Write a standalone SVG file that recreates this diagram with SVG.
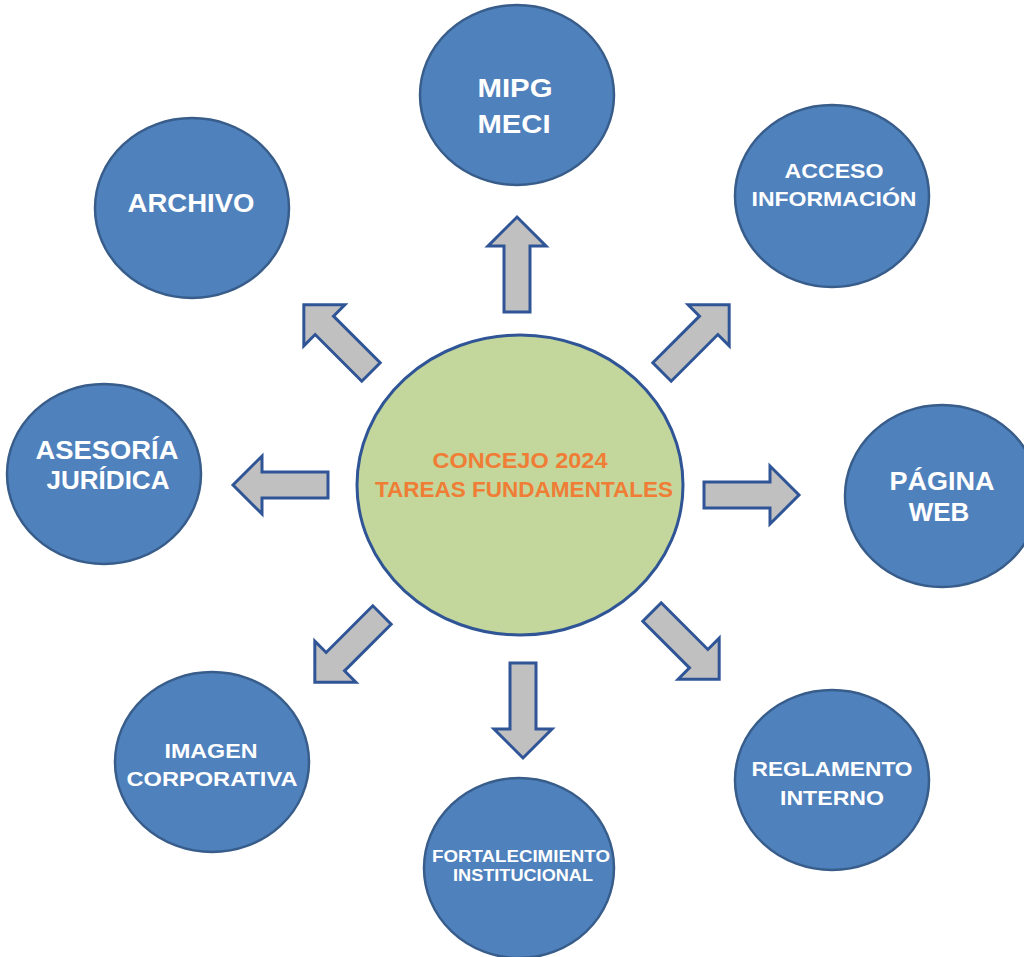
<svg xmlns="http://www.w3.org/2000/svg" width="1024" height="957" viewBox="0 0 1024 957">
<style>
.node{fill:#4f81bd;stroke:#385d8a;stroke-width:2.5}
.center{fill:#c3d69b;stroke:#2f5597;stroke-width:3}
.arrow{fill:#c0c0c0;stroke:#2f5597;stroke-width:3;stroke-linejoin:miter}
.lbl{font-family:"Liberation Sans",Arial,sans-serif;font-weight:bold;fill:#ffffff;text-anchor:middle}
.ctr{font-family:"Liberation Sans",Arial,sans-serif;font-weight:bold;fill:#f07d35;text-anchor:middle}
</style>
<defs>
<path id="arr" d="M0,-13 H66 V-29 L95,0 L66,29 V13 H0 Z"/>
</defs>
<rect width="1024" height="957" fill="#ffffff"/>
<g id="connectors">
<use href="#arr" class="arrow" transform="translate(517,312) rotate(-90)"/>
<use href="#arr" class="arrow" transform="translate(328,485) rotate(180)"/>
<use href="#arr" class="arrow" transform="translate(704,495)"/>
<use href="#arr" class="arrow" transform="translate(523,663) rotate(90)"/>
<use href="#arr" class="arrow" transform="translate(371,372) rotate(-135)"/>
<use href="#arr" class="arrow" transform="translate(662,372) rotate(-45)"/>
<use href="#arr" class="arrow" transform="translate(382,615) rotate(135)"/>
<use href="#arr" class="arrow" transform="translate(652,612) rotate(45)"/>
</g>
<g id="center">
<ellipse class="center" cx="520" cy="485" rx="163" ry="150"/>
<text class="ctr" x="520" y="468" font-size="22" textLength="175" lengthAdjust="spacingAndGlyphs">CONCEJO 2024</text>
<text class="ctr" x="524" y="497" font-size="22" textLength="298" lengthAdjust="spacingAndGlyphs">TAREAS FUNDAMENTALES</text>
</g>
<g id="mipg">
<ellipse class="node" cx="517" cy="95" rx="97" ry="90"/>
<text class="lbl" x="515" y="97" font-size="26" textLength="75" lengthAdjust="spacingAndGlyphs">MIPG</text>
<text class="lbl" x="514" y="133" font-size="26" textLength="73" lengthAdjust="spacingAndGlyphs">MECI</text>
</g>
<g id="archivo">
<ellipse class="node" cx="192" cy="208" rx="97" ry="90"/>
<text class="lbl" x="191" y="212" font-size="25" textLength="127" lengthAdjust="spacingAndGlyphs">ARCHIVO</text>
</g>
<g id="acceso">
<ellipse class="node" cx="832" cy="196" rx="97" ry="91"/>
<text class="lbl" x="834" y="178" font-size="20" textLength="99" lengthAdjust="spacingAndGlyphs">ACCESO</text>
<text class="lbl" x="834" y="206" font-size="20" textLength="165" lengthAdjust="spacingAndGlyphs">INFORMACIÓN</text>
</g>
<g id="asesoria">
<ellipse class="node" cx="104" cy="474" rx="97" ry="90"/>
<text class="lbl" x="107" y="459" font-size="25" textLength="143" lengthAdjust="spacingAndGlyphs">ASESORÍA</text>
<text class="lbl" x="108" y="489" font-size="25" textLength="123" lengthAdjust="spacingAndGlyphs">JURÍDICA</text>
</g>
<g id="pagina">
<ellipse class="node" cx="942" cy="496" rx="97" ry="91"/>
<text class="lbl" x="942" y="490" font-size="26" textLength="105" lengthAdjust="spacingAndGlyphs">PÁGINA</text>
<text class="lbl" x="939" y="521" font-size="26">WEB</text>
</g>
<g id="imagen">
<ellipse class="node" cx="212" cy="762" rx="97" ry="90"/>
<text class="lbl" x="211" y="758" font-size="20" textLength="93" lengthAdjust="spacingAndGlyphs">IMAGEN</text>
<text class="lbl" x="212" y="786" font-size="20" textLength="171" lengthAdjust="spacingAndGlyphs">CORPORATIVA</text>
</g>
<g id="fortalecimiento">
<ellipse class="node" cx="519" cy="868" rx="95" ry="90"/>
<text class="lbl" x="521" y="862" font-size="17" textLength="178" lengthAdjust="spacingAndGlyphs">FORTALECIMIENTO</text>
<text class="lbl" x="523" y="881" font-size="17" textLength="140" lengthAdjust="spacingAndGlyphs">INSTITUCIONAL</text>
</g>
<g id="reglamento">
<ellipse class="node" cx="832" cy="780" rx="97" ry="90"/>
<text class="lbl" x="832" y="776" font-size="20" textLength="161" lengthAdjust="spacingAndGlyphs">REGLAMENTO</text>
<text class="lbl" x="832" y="805" font-size="20" textLength="104" lengthAdjust="spacingAndGlyphs">INTERNO</text>
</g>
</svg>
